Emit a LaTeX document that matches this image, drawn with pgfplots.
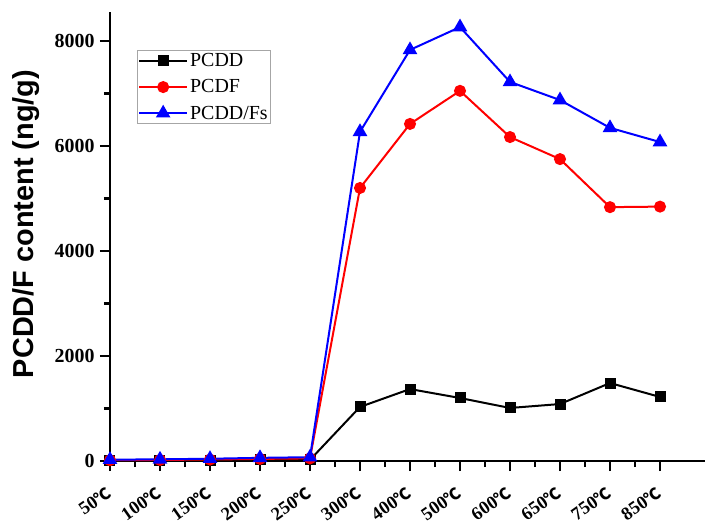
\documentclass[border=0pt]{standalone}
\usepackage{pgfplots}
\pgfplotsset{compat=1.18}
\usepackage{fontspec}
\setmainfont{Liberation Serif}
\newfontfamily\arialfont{Liberation Sans}
\newfontfamily\cjk{Noto Sans CJK SC}
\newcommand{\dc}{{\cjk\fontsize{16}{17}\selectfont ℃}}

\begin{document}
\begin{tikzpicture}
\path[use as bounding box] (-110bp,-65bp) rectangle (595bp,461bp);
\begin{axis}[
  scale only axis,
  width=595bp, height=449bp,
  xmin=0, xmax=11.9,
  ymin=0, ymax=8552,
  axis lines=left,
  axis line style={line width=2.6bp, -},
  xtick={0,...,11},
  xticklabels={50\dc,100\dc,150\dc,200\dc,250\dc,300\dc,400\dc,500\dc,600\dc,650\dc,750\dc,850\dc},
  ytick={0,2000,4000,6000,8000},
  minor x tick num=1,
  minor y tick num=1,
  tick align=outside,
  major tick length=10bp,
  minor tick length=6bp,
  every tick/.style={black, line width=2.2bp},
  tick label style={font=\fontsize{20}{22}\selectfont\bfseries},
  x tick label style={font=\fontsize{18.5}{20}\selectfont\bfseries,
    xshift=-1bp, yshift=-20bp, rotate=35, anchor=east, inner sep=0bp},
  y tick label style={xshift=-2bp},
  /pgf/number format/assume math mode=true,
  scaled y ticks=false,
  yticklabel={\pgfmathprintnumber[fixed,1000 sep={}]{\tick}},
  legend style={at={(0.045,0.915)}, anchor=north west, draw=gray!70, line width=0.8bp,
    font=\fontsize{20}{22}\selectfont, inner sep=1bp, row sep=7.5bp,
    legend cell align=left},
  legend image code/.code={\draw[mark repeat=2, mark phase=2] plot coordinates {(0bp,0bp) (24bp,0bp) (48bp,0bp)};},
  clip=false,
]
\addplot [black, line width=2bp, mark=square*, mark size=4.5bp] coordinates {
  (0,10) (1,12) (2,15) (3,20) (4,22) (5,1030) (6,1370) (7,1200) (8,1010) (9,1085) (10,1485) (11,1220)};
\addlegendentry{PCDD}
\addplot [red, line width=2bp, mark=*, mark size=5bp] coordinates {
  (0,15) (1,20) (2,28) (3,40) (4,50) (5,5200) (6,6420) (7,7050) (8,6170) (9,5750) (10,4835) (11,4845)};
\addlegendentry{PCDF}
\addplot [blue, line width=2bp, mark=triangle*, mark size=6.5bp] coordinates {
  (0,25) (1,32) (2,43) (3,60) (4,72) (5,6270) (6,7830) (7,8265) (8,7220) (9,6875) (10,6345) (11,6075)};
\addlegendentry{PCDD/Fs}
\end{axis}
\node[rotate=90, font=\arialfont\bfseries\fontsize{29}{32}\selectfont] at (-84bp,237bp) {PCDD/F content (ng/g)};
\end{tikzpicture}
\end{document}
